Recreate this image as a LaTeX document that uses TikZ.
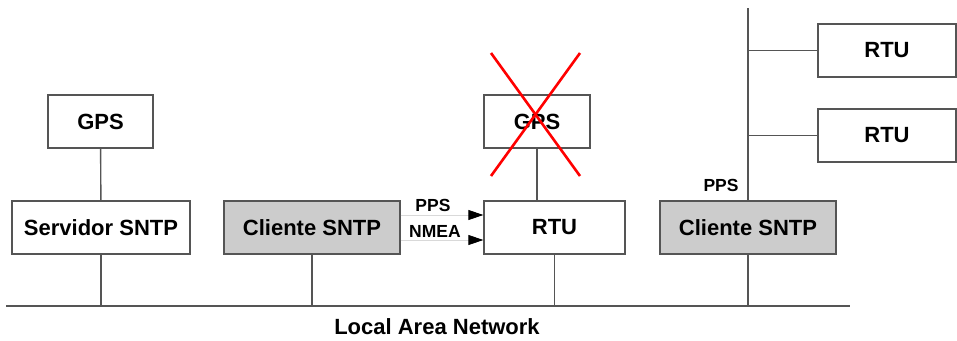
\documentclass[tikz,border=0pt]{standalone}
\usepackage{fontspec}
\setmainfont{Liberation Sans}
\usetikzlibrary{arrows.meta}
\definecolor{wire}{HTML}{555555}
\definecolor{boxgray}{HTML}{CCCCCC}
\begin{document}
\begin{tikzpicture}[x=1pt,y=-1pt,
  unit/.style={draw=wire,line width=1.3pt,rectangle,minimum height=53pt,inner sep=0pt,
    font=\fontsize{22}{26}\selectfont\bfseries},
  client/.style={unit,fill=boxgray},
  link/.style={draw=wire,line width=1.4pt},
  sig/.style={draw=black!15,line width=0.8pt,-{Triangle[length=15pt,width=10pt,black]}},
  tag/.style={font=\fontsize{17.5}{20}\selectfont\bfseries,inner sep=0pt}]
\useasboundingbox (0,0) rectangle (957,340);

% network segment
\coordinate (lanL) at (6,306);
\coordinate (lanR) at (850,306);
\coordinate (busTop) at (748,8);
\draw[link] (lanL) -- (lanR);
\node[font=\fontsize{22}{26}\selectfont\bfseries] (lanlbl) at (437,327) {Local Area Network};

% devices
\node[unit,minimum width=105pt] (gpsL) at (100.5,121.5) {GPS};
\node[unit,minimum width=178pt] (srv) at (101,227.5) {Servidor SNTP};
\node[client,minimum width=176pt] (cli1) at (312,227.5) {Cliente SNTP};
\node[unit,minimum width=106pt] (gpsC) at (537,121.5) {GPS};
\node[unit,minimum width=141pt] (rtuC) at (554.5,227.5) {RTU};
\node[client,minimum width=176pt] (cli2) at (748,227.5) {Cliente SNTP};
\node[unit,minimum width=138pt] (rtuA) at (887,50.5) {RTU};
\node[unit,minimum width=138pt] (rtuB) at (887,135.5) {RTU};

% wiring
\draw[link] (gpsL) -- (srv);
\draw[link] (srv.south) -- (srv.south |- lanL);
\draw[link] (cli1.south) -- (cli1.south |- lanL);
\draw[link] (gpsC.south) -- (gpsC.south |- rtuC.north);
\draw[link] (rtuC.south) -- (rtuC.south |- lanL);
\draw[link] (busTop) -- (cli2.north);
\draw[link] (cli2.south) -- (cli2.south |- lanL);
\draw[link] (busTop |- rtuA.west) -- (rtuA.west);
\draw[link] (busTop |- rtuB.west) -- (rtuB.west);

% timing signals
\draw[sig] ([yshift=12.5pt]cli1.east) -- ([yshift=12.5pt]rtuC.west);
\draw[sig] ([yshift=-12.5pt]cli1.east) -- ([yshift=-12.5pt]rtuC.west);
\node[tag] (ppsA) at (433,205) {PPS};
\node[tag] (nmea) at (435,231) {NMEA};
\node[tag] (ppsB) at (721,185) {PPS};

% GPS out of service
\coordinate (xa) at (491,53);
\coordinate (xb) at (580,176);
\coordinate (xc) at (580,53);
\coordinate (xd) at (491,176);
\draw[red,line width=2.6pt] (xa) -- (xb);
\draw[red,line width=2.6pt] (xc) -- (xd);
\end{tikzpicture}
\end{document}
